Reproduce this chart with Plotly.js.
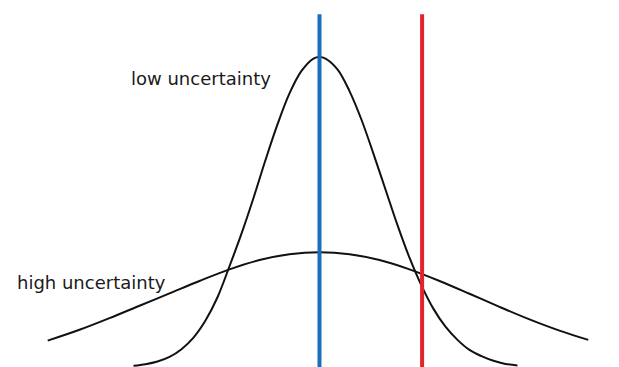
<!DOCTYPE html>
<html>
<head>
<meta charset="utf-8">
<script src="https://cdn.plot.ly/plotly-3.0.1.min.js"></script>
<style>
  html, body { margin: 0; padding: 0; background: #ffffff; }
  #chart { width: 619px; height: 367px; }
</style>
</head>
<body>
<div id="chart"></div>
<script>
// Low-uncertainty (narrow) distribution
const narrowX = [-3.1, -2.9, -2.7, -2.5, -2.3, -2.1, -1.9, -1.7, -1.5, -1.3, -1.1, -0.9, -0.7, -0.5, -0.3, -0.1, 0,
                 0.1, 0.3, 0.5, 0.7, 0.9, 1.1, 1.3, 1.5, 1.7, 1.9, 2.1, 2.3, 2.5, 2.7, 2.9, 3.1, 3.3];
const narrowY = [0.0015, 0.0035, 0.007, 0.013, 0.023, 0.038, 0.060, 0.090, 0.130, 0.172, 0.218, 0.267, 0.313, 0.353, 0.382, 0.398, 0.400,
                 0.398, 0.384, 0.356, 0.319, 0.275, 0.229, 0.183, 0.141, 0.105, 0.075, 0.052, 0.035, 0.022, 0.014, 0.008, 0.004, 0.002];

// High-uncertainty (wide) distribution
const wideX = [-4.53, -4.0, -3.5, -3.0, -2.5, -2.0, -1.5, -1.0, -0.5, 0,
               0.5, 1.0, 1.5, 2.0, 2.5, 3.0, 3.5, 4.0, 4.48];
const wideY = [0.034, 0.048, 0.063, 0.079, 0.095, 0.111, 0.126, 0.138, 0.1455, 0.148,
               0.1455, 0.138, 0.126, 0.111, 0.0945, 0.0776, 0.0615, 0.047, 0.035];

// Vertical markers
const markerNames = ['mean', 'observation'];
const markerX = [0, 1.71];
const markerTop = 0.455;

// Labels
const labelTexts = ['low uncertainty', 'high uncertainty'];

const curveStyle = {color: '#111111', width: 2, shape: 'spline', smoothing: 1};

const traces = [
  {x: narrowX, y: narrowY, type: 'scatter', mode: 'lines', line: curveStyle, hoverinfo: 'skip'},
  {x: wideX, y: wideY, type: 'scatter', mode: 'lines', line: curveStyle, hoverinfo: 'skip'},
  {x: [markerX[0], markerX[0]], y: [0, markerTop], type: 'scatter', mode: 'lines', name: markerNames[0],
   line: {color: '#1a6fba', width: 4}, hoverinfo: 'skip'},
  {x: [markerX[1], markerX[1]], y: [0, markerTop], type: 'scatter', mode: 'lines', name: markerNames[1],
   line: {color: '#e4232b', width: 4}, hoverinfo: 'skip'}
];

const labelFont = {family: 'DejaVu Sans, Verdana, sans-serif', size: 18, color: '#1a1a1a'};

const layout = {
  width: 619,
  height: 367,
  margin: {l: 0, r: 0, t: 0, b: 0, pad: 0},
  paper_bgcolor: '#ffffff',
  plot_bgcolor: '#ffffff',
  showlegend: false,
  xaxis: {range: [-5.325, 4.992], visible: false, fixedrange: true},
  yaxis: {range: [0, 0.4735], visible: false, fixedrange: true},
  annotations: [
    {text: labelTexts[0], xref: 'paper', yref: 'paper', x: 129 / 619, y: 1 - 78 / 367,
     xanchor: 'left', yanchor: 'middle', showarrow: false, font: labelFont},
    {text: labelTexts[1], xref: 'paper', yref: 'paper', x: 15 / 619, y: 1 - 282.5 / 367,
     xanchor: 'left', yanchor: 'middle', showarrow: false, font: labelFont}
  ]
};

Plotly.newPlot('chart', traces, layout, {staticPlot: true, displayModeBar: false});
</script>
</body>
</html>
